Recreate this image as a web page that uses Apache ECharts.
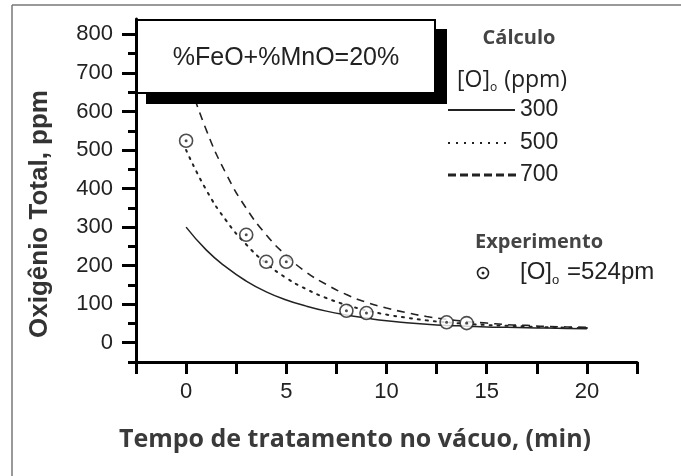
<!DOCTYPE html>
<html>
<head>
<meta charset="utf-8">
<script src="https://cdn.jsdelivr.net/npm/echarts@6/dist/echarts.min.js"></script>
<style>
html,body{margin:0;padding:0;background:#fff;}
#c{width:681px;height:476px;}
</style>
</head>
<body>
<div id="c"></div>
<script>
// ---- data ----
const tMin = [0,1,2,3,4,5,6,7,8,9,10,11,12,13,14,15,16,17,18,19,20];
const calc300 = [300,241,196,160,132,111,95,82,72,64,57,52,48,45,43,41,40,39,38,37,36];
const calc500 = [500,397,317,255,206,168,139,116,98,84,73,65,58,53,49,46,44,42,40,39,38];
const calc700 = [700,553,438,349,280,226,183,151,125,105,90,78,68,61,55,51,47,45,42,41,40];
const expTime = [0,3,4,5,8,9,13,14];
const expO = [524,280,210,210,83,77,53,51];
const xTickLabels = ['0','5','10','15','20'];
const yTickLabels = ['0','100','200','300','400','500','600','700','800'];
const yMinorTicks = [-50,50,150,250,350,450,550,650,750];
const legendValues = ['300','500','700'];

const chart = echarts.init(document.getElementById('c'), null, {renderer:'canvas'});
const axisFont = 'Liberation Sans, Arial, sans-serif';
const calFont = 'Open Sans, sans-serif';
const ink = '#222';

const pair = (xs, ys) => xs.map((x,i)=>[x, ys[i]]);

const option = {
  animation: false,
  backgroundColor: '#fff',
  grid: {left:136, right:44, top:19, bottom:114, containLabel:false},
  xAxis: {
    type:'value', min:-2.5, max:22.5, interval:2.5,
    axisLine:{show:true, onZero:false, lineStyle:{color:'#000', width:3}},
    axisTick:{show:true, inside:false, length:12, lineStyle:{color:'#000', width:3}},
    axisLabel:{margin:19, color:ink, fontFamily:axisFont, fontSize:22,
      formatter: v => xTickLabels.includes(String(v)) ? String(v) : ''},
    splitLine:{show:false}
  },
  yAxis: [{
    type:'value', min:-50, max:840,
    axisLine:{show:true, onZero:false, lineStyle:{color:'#000', width:3}},
    axisTick:{show:true, inside:false, length:14, lineStyle:{color:'#000', width:3},
      customValues: yTickLabels.map(Number)},
    axisLabel:{margin:23, color:ink, fontFamily:axisFont, fontSize:22,
      customValues: yTickLabels.map(Number), formatter: v => String(v)},
    splitLine:{show:false}
  },{
    type:'value', min:-50, max:840, position:'left', offset:0,
    axisLine:{show:false, onZero:false},
    axisTick:{show:true, inside:false, length:8, lineStyle:{color:'#000', width:3},
      customValues: yMinorTicks},
    axisLabel:{show:false},
    splitLine:{show:false}
  }],
  series: [
    {type:'line', name:'300', data:pair(tMin, calc300), smooth:true, showSymbol:false,
     lineStyle:{color:ink, width:1.5, type:'solid'}, z:2},
    {type:'line', name:'500', data:pair(tMin, calc500), smooth:true, showSymbol:false,
     lineStyle:{color:ink, width:2, type:[2,6], cap:'round'}, z:2},
    {type:'line', name:'700', data:pair(tMin, calc700), smooth:true, showSymbol:false,
     lineStyle:{color:ink, width:1.6, type:[8,6]}, z:2},
    {type:'scatter', name:'exp', data:pair(expTime, expO), symbol:'circle', symbolSize:13,
     itemStyle:{color:'#fff', borderColor:ink, borderWidth:1.6}, z:5},
    {type:'scatter', name:'expDot', data:pair(expTime, expO), symbol:'circle', symbolSize:3,
     itemStyle:{color:ink}, z:6}
  ],
  graphic: [
    // outer frame (left and top)
    {type:'line', z:100, shape:{x1:12, y1:5, x2:12, y2:476}, style:{stroke:'#777', lineWidth:1.5}},
    {type:'line', z:100, shape:{x1:12, y1:5, x2:681, y2:5}, style:{stroke:'#777', lineWidth:1.5}},
    // annotation box with shadow
    {type:'rect', z:100, shape:{x:146, y:29, width:301, height:75}, style:{fill:'#000'}},
    {type:'rect', z:101, shape:{x:137, y:20, width:298, height:73}, style:{fill:'#fff', stroke:'#000', lineWidth:2}},
    {type:'text', z:102, x:286, y:58, style:{text:'%FeO+%MnO=20%', font:'25px ' + axisFont, fill:ink, textAlign:'center', textVerticalAlign:'middle'}},
    // legend - Cálculo
    {type:'text', z:102, x:519, y:38, style:{text:'Cálculo', font:'bold 20px ' + calFont, fill:'#444', textAlign:'center', textVerticalAlign:'middle'}},
    {type:'text', z:102, x:457, y:80, style:{
      text:'{a|[O]}{s|o}{a| (ppm)}', textAlign:'left', textVerticalAlign:'middle',
      rich:{a:{fontSize:23, fontFamily:calFont, fill:ink},
            s:{fontSize:12, fontFamily:calFont, fill:ink, padding:[15,1,0,0]}}}},
    {type:'line', z:102, shape:{x1:448, y1:110, x2:515, y2:110}, style:{stroke:ink, lineWidth:2}},
    {type:'line', z:102, shape:{x1:448, y1:143, x2:508, y2:143}, style:{stroke:ink, lineWidth:2.2, lineDash:[2,6]}},
    {type:'line', z:102, shape:{x1:448, y1:175, x2:517, y2:175}, style:{stroke:ink, lineWidth:3, lineDash:[8,4]}},
    {type:'text', z:102, x:520, y:110, style:{text:legendValues[0], font:'23px ' + axisFont, fill:ink, textAlign:'left', textVerticalAlign:'middle'}},
    {type:'text', z:102, x:520, y:143, style:{text:legendValues[1], font:'23px ' + axisFont, fill:ink, textAlign:'left', textVerticalAlign:'middle'}},
    {type:'text', z:102, x:520, y:175, style:{text:legendValues[2], font:'23px ' + axisFont, fill:ink, textAlign:'left', textVerticalAlign:'middle'}},
    // legend - Experimento
    {type:'text', z:102, x:539, y:242, style:{text:'Experimento', font:'bold 20px ' + calFont, fill:'#444', textAlign:'center', textVerticalAlign:'middle'}},
    {type:'circle', z:102, shape:{cx:483, cy:273, r:5.5}, style:{fill:'#fff', stroke:ink, lineWidth:1.6}},
    {type:'circle', z:103, shape:{cx:483, cy:273, r:1.5}, style:{fill:ink}},
    {type:'text', z:102, x:520, y:272, style:{
      text:'{a|[O]}{s|o}{a| =524pm}', textAlign:'left', textVerticalAlign:'middle',
      rich:{a:{fontSize:24, fontFamily:axisFont, fill:ink},
            s:{fontSize:13, fontFamily:axisFont, fill:ink, padding:[17,1,0,0]}}}},
    // axis titles
    {type:'text', z:102, x:40, y:214, rotation:Math.PI/2, style:{text:'Oxigênio Total, ppm', font:'bold 26px ' + axisFont, fill:'#333', textAlign:'center', textVerticalAlign:'middle'}},
    {type:'text', z:102, x:355, y:440, style:{text:'Tempo de tratamento no vácuo, (min)', font:'bold 25px ' + calFont, fill:'#3a3a3a', textAlign:'center', textVerticalAlign:'middle'}}
  ]
};
chart.setOption(option);
</script>
</body>
</html>
